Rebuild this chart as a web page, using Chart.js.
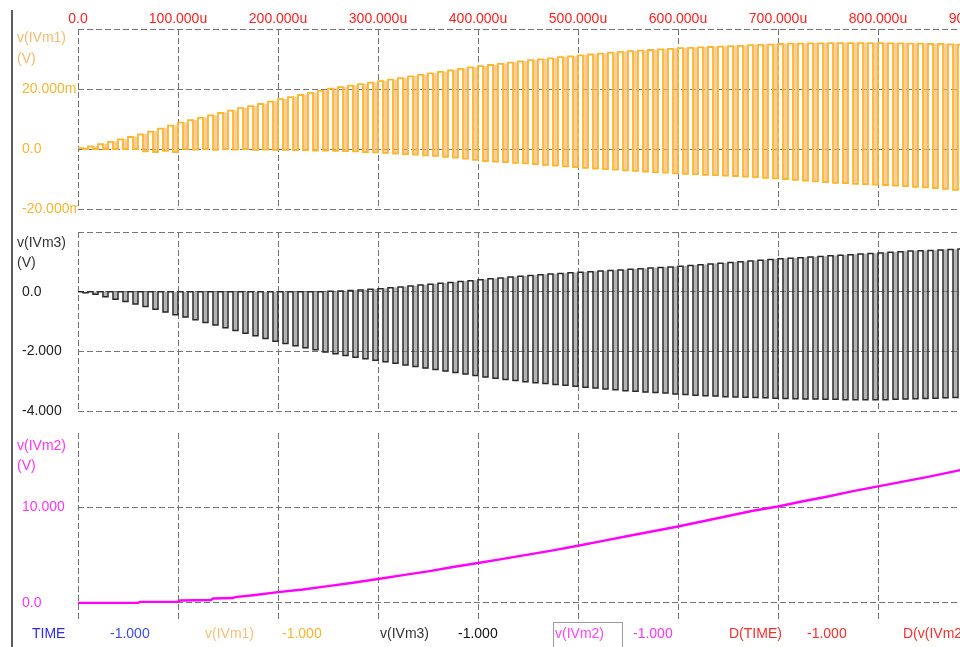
<!DOCTYPE html>
<html>
<head>
<meta charset="utf-8">
<script src="https://cdn.jsdelivr.net/npm/chart.js@4/dist/chart.umd.min.js"></script>
<style>
html, body { margin: 0; padding: 0; width: 960px; height: 647px; overflow: hidden; background: #fff; }
#wrap { position: relative; width: 960px; height: 647px; overflow: hidden;
        font-family: "Liberation Sans", Arial, sans-serif; font-size: 14px; }
canvas { position: absolute; left: 0; }
.t { position: absolute; white-space: nowrap; line-height: 16px; }
#frame { position: absolute; left: 11px; top: 10px; width: 2px; height: 637px; background: #5c5c5c; }
#sel { position: absolute; left: 553px; top: 622px; width: 70px; height: 30px; border: 1px solid #9a9a9a; box-sizing: border-box; }
</style>
</head>
<body>
<div id="wrap">
  <div id="frame"></div>
  <canvas id="c1" width="980" height="220" style="top:0px"></canvas>
  <canvas id="c2" width="980" height="200" style="top:220px"></canvas>
  <canvas id="c3" width="980" height="207" style="top:423px"></canvas>

  <div class="t" style="left:17px;top:29px;color:#f3bb6e">v(IVm1)</div>
  <div class="t" style="left:17px;top:50px;color:#f3bb6e">(V)</div>
  <div class="t" style="left:17px;top:234px;color:#333">v(IVm3)</div>
  <div class="t" style="left:17px;top:254px;color:#333">(V)</div>
  <div class="t" style="left:17px;top:437px;color:#ff33ff">v(IVm2)</div>
  <div class="t" style="left:17px;top:457px;color:#ff33ff">(V)</div>

  <div class="t" style="left:32px;top:625px;color:#2a2af0">TIME</div>
  <div class="t" style="left:110px;top:625px;color:#3a4cf5">-1.000</div>
  <div class="t" style="left:205px;top:625px;color:#f6bf7c">v(IVm1)</div>
  <div class="t" style="left:282px;top:625px;color:#f5b72a">-1.000</div>
  <div class="t" style="left:380px;top:625px;color:#333">v(IVm3)</div>
  <div class="t" style="left:458px;top:625px;color:#111">-1.000</div>
  <div id="sel"></div>
  <div class="t" style="left:555px;top:625px;color:#ff44ff">v(IVm2)</div>
  <div class="t" style="left:633px;top:625px;color:#ff33ff">-1.000</div>
  <div class="t" style="left:729px;top:625px;color:#ff2a2a">D(TIME)</div>
  <div class="t" style="left:807px;top:625px;color:#ff2a2a">-1.000</div>
  <div class="t" style="left:903px;top:625px;color:#ff2a2a">D(v(IVm2))</div>
</div>

<script>
// ---- time axis (microseconds) ----
const xTickValues = [0, 100, 200, 300, 400, 500, 600, 700, 800, 900];
const xTickLabels = ['0.0', '100.000u', '200.000u', '300.000u', '400.000u',
                     '500.000u', '600.000u', '700.000u', '800.000u', '900.000u'];

// start of each switching cycle (us)
const cycleStart = [
  0, 10, 20, 30, 40, 50, 60, 70, 80, 90, 100, 110, 120, 130, 140, 150, 160, 170, 180, 190,
  200, 210, 220, 230, 240, 250, 260, 270, 280, 290, 300, 310, 320, 330, 340, 350, 360, 370, 380, 390,
  400, 410, 420, 430, 440, 450, 460, 470, 480, 490, 500, 510, 520, 530, 540, 550, 560, 570, 580, 590,
  600, 610, 620, 630, 640, 650, 660, 670, 680, 690, 700, 710, 720, 730, 740, 750, 760, 770, 780, 790,
  800, 810, 820, 830, 840, 850, 860, 870, 880, 890, 900
];

// v(IVm1): high and low level of each cycle (mV)
const ivm1High = [
  0.3, 0.9, 1.6, 2.4, 3.2, 4.0, 4.9, 5.8, 6.8, 7.8, 8.8, 9.6, 10.4, 11.2, 12.0, 12.8, 13.6, 14.3, 15.0, 15.8,
  16.6, 17.3, 18.0, 18.7, 19.4, 20.1, 20.6, 21.1, 21.6, 22.1, 22.6, 23.1, 23.6, 24.2, 24.7, 25.2, 25.7, 26.2, 26.7, 27.2,
  27.6, 28.0, 28.4, 28.8, 29.2, 29.6, 29.9, 30.2, 30.6, 30.9, 31.2, 31.5, 31.8, 32.1, 32.4, 32.6, 32.8, 33.0, 33.2, 33.4,
  33.6, 33.7, 33.9, 34.0, 34.1, 34.3, 34.4, 34.6, 34.7, 34.8, 35.0, 35.1, 35.1, 35.2, 35.2, 35.3, 35.3, 35.3, 35.3, 35.3,
  35.3, 35.2, 35.2, 35.1, 35.1, 35.0, 35.0, 34.9, 34.8, 34.7
];
const ivm1Low = [
  0, 0, 0, 0, 0, 0, -0.8, -1.0, -0.6, -1.0, 0, -0.2, 0, -0.3, 0, -0.2, 0, -0.3, -0.2, -0.3,
  -0.3, -0.4, -0.4, -0.5, -0.5, -0.6, -0.7, -0.8, -1.0, -1.1, -1.3, -1.5, -1.7, -1.9, -2.1, -2.3, -2.6, -2.9, -3.2, -3.6,
  -4.0, -4.2, -4.4, -4.6, -4.8, -5.0, -5.3, -5.5, -5.8, -6.0, -6.3, -6.5, -6.7, -6.9, -7.1, -7.3, -7.5, -7.7, -7.9, -8.1,
  -8.3, -8.4, -8.6, -8.7, -8.9, -9.0, -9.2, -9.4, -9.6, -9.8, -10.0, -10.3, -10.5, -10.8, -11.0, -11.3, -11.4, -11.6, -11.7, -11.9,
  -12.0, -12.2, -12.4, -12.6, -12.8, -13.0, -13.3, -13.6, -13.9, -14.1
];

// v(IVm3): high and low level of each cycle (V)
const ivm3High = [
  0, 0, 0, 0, 0, 0, 0, 0, 0, 0, 0, 0, 0, 0, 0, 0, 0, 0, 0, 0,
  0, 0, 0, 0, 0, 0.01, 0.02, 0.04, 0.06, 0.08, 0.10, 0.13, 0.16, 0.19, 0.22, 0.25, 0.28, 0.31, 0.34, 0.37,
  0.40, 0.43, 0.46, 0.49, 0.52, 0.54, 0.57, 0.59, 0.61, 0.63, 0.65, 0.67, 0.69, 0.71, 0.73, 0.75, 0.77, 0.79, 0.81, 0.83,
  0.85, 0.88, 0.90, 0.93, 0.95, 0.98, 1.00, 1.03, 1.05, 1.08, 1.10, 1.12, 1.14, 1.16, 1.18, 1.20, 1.22, 1.24, 1.26, 1.28,
  1.30, 1.32, 1.34, 1.36, 1.37, 1.38, 1.40, 1.41, 1.43, 1.44
];
const ivm3Low = [
  -0.04, -0.09, -0.17, -0.25, -0.33, -0.41, -0.50, -0.59, -0.68, -0.77, -0.85, -0.94, -1.03, -1.12, -1.21, -1.30, -1.39, -1.48, -1.57, -1.66,
  -1.74, -1.81, -1.88, -1.95, -2.02, -2.08, -2.14, -2.20, -2.25, -2.30, -2.35, -2.40, -2.46, -2.51, -2.56, -2.61, -2.66, -2.71, -2.76, -2.81,
  -2.86, -2.90, -2.94, -2.98, -3.02, -3.05, -3.08, -3.11, -3.14, -3.17, -3.20, -3.23, -3.26, -3.29, -3.32, -3.34, -3.36, -3.38, -3.40, -3.43,
  -3.45, -3.47, -3.49, -3.50, -3.52, -3.53, -3.54, -3.55, -3.56, -3.57, -3.58, -3.59, -3.60, -3.60, -3.61, -3.61, -3.62, -3.62, -3.62, -3.62,
  -3.62, -3.61, -3.60, -3.59, -3.58, -3.57, -3.56, -3.55, -3.54, -3.53
];

// v(IVm2): smooth output (time in us, value in V)
const ivm2Time = [0, 60, 62, 100, 102, 133, 135, 155, 157, 175, 200, 225, 250, 275, 300, 325, 350, 375, 400,
                  425, 450, 475, 500, 525, 550, 575, 600, 625, 650, 675, 700, 725, 750, 775, 800, 825, 850, 875, 900];
const ivm2Volt = [0, 0, 0.10, 0.12, 0.25, 0.30, 0.45, 0.50, 0.60, 0.80, 1.12, 1.40, 1.75, 2.10, 2.50, 2.90, 3.30, 3.75, 4.17,
                  4.60, 5.05, 5.50, 5.98, 6.50, 7.00, 7.50, 8.00, 8.55, 9.10, 9.65, 10.10, 10.65, 11.15, 11.70, 12.20, 12.70, 13.20, 13.75, 14.30];

// ---- y axis ticks ----
const y1TickValues = [-20, 0, 20, 40];
const y1TickLabels = ['-20.000m', '0.0', '20.000m', ''];
const y2TickValues = [-4, -2, 0, 2];
const y2TickLabels = ['-4.000', '-2.000', '0.0', ''];
const y3TickValues = [0, 10];
const y3TickLabels = ['0.0', '10.000'];

// square wave: high for the first half of each cycle, low for the second half
function pulseTrain(high, low) {
  const pts = [{ x: cycleStart[0], y: 0 }];
  for (let k = 0; k < high.length; k++) {
    const t0 = cycleStart[k], t1 = cycleStart[k + 1];
    const mid = (t0 + t1) / 2;
    pts.push({ x: t0, y: high[k] }, { x: mid, y: high[k] }, { x: mid, y: low[k] }, { x: t1, y: low[k] });
  }
  return pts;
}

// swing of each cycle, placed in its off half (drawn as a shaded column)
function offSwing(high, low) {
  return high.map((h, k) => ({ x: (cycleStart[k] * 1 + cycleStart[k + 1] * 3) / 4, y: [low[k], h] }));
}

const FONT = { family: '"Liberation Sans", Arial, sans-serif', size: 14 };
const GRID_COLOR = '#747474';
const GRID_DASH = [6, 3];

function xScale(showLabels) {
  return {
    type: 'linear', min: 0, max: 900, offset: false,
    position: showLabels ? 'top' : 'bottom',
    afterBuildTicks: s => { s.ticks = xTickValues.map(v => ({ value: v })); },
    afterFit: s => { s.height = showLabels ? 29 : 0; s.paddingLeft = 0; s.paddingRight = 0; },
    grid: { color: GRID_COLOR, lineWidth: 1, drawTicks: false, offset: false },
    border: { display: false, dash: GRID_DASH },
    ticks: {
      display: showLabels, padding: 1, color: '#ff2020', font: FONT, maxRotation: 0, minRotation: 0, autoSkip: false,
      callback: v => xTickLabels[xTickValues.indexOf(v)]
    }
  };
}

function yScale(min, max, values, labels, color) {
  return {
    type: 'linear', min: min, max: max,
    afterBuildTicks: s => { s.ticks = values.map(v => ({ value: v })); },
    afterFit: s => { s.width = 56; s.paddingTop = 0; s.paddingBottom = 0; },
    grid: { color: GRID_COLOR, lineWidth: 1, drawTicks: false },
    border: { display: false, dash: GRID_DASH },
    ticks: {
      crossAlign: 'far', padding: 0, color: color, font: FONT, autoSkip: false,
      callback: v => labels[values.indexOf(v)]
    }
  };
}

function panel(id, datasets, yOpts, showX, padTop, padBottom) {
  new Chart(document.getElementById(id), {
    type: 'line',
    data: { datasets: datasets },
    options: {
      responsive: false, animation: false, devicePixelRatio: 1,
      layout: { padding: { left: 22, right: 2, top: padTop, bottom: padBottom } },
      plugins: { legend: { display: false }, tooltip: { enabled: false } },
      elements: { point: { radius: 0 }, line: { tension: 0 } },
      scales: { x: xScale(showX), y: yOpts }
    }
  });
}

panel('c1', [
  { type: 'bar', data: offSwing(ivm1High, ivm1Low), backgroundColor: 'rgba(250,175,105,0.62)',
    borderWidth: 0, barThickness: 3.5, grouped: false, order: 2 },
  { data: pulseTrain(ivm1High, ivm1Low), borderColor: '#fdb62a', borderWidth: 1.8, fill: false, order: 1 }
], yScale(-20, 40, y1TickValues, y1TickLabels, '#f5b62e'), true, 0, 11);

panel('c2', [
  { type: 'bar', data: offSwing(ivm3High, ivm3Low), backgroundColor: 'rgba(130,130,130,0.6)',
    borderWidth: 0, barThickness: 3.5, grouped: false, order: 2 },
  { data: pulseTrain(ivm3High, ivm3Low), borderColor: '#2a2a2a', borderWidth: 1.5, fill: false, order: 1 }
], yScale(-4, 2, y2TickValues, y2TickLabels, '#222'), false, 12, 9);

panel('c3', [
  { data: ivm2Time.map((t, i) => ({ x: t, y: ivm2Volt[i] })), borderColor: '#ff00ff', borderWidth: 2.4, fill: false }
], yScale(-1.8, 17.8, y3TickValues, y3TickLabels, '#ff33ff'), false, 10, 10);
</script>
</body>
</html>
